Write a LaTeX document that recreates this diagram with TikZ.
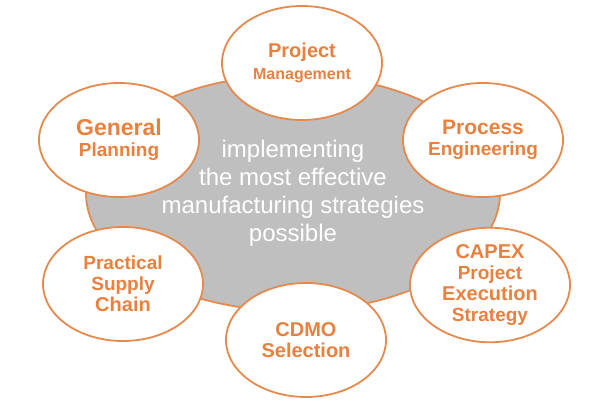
\documentclass[tikz,border=0pt]{standalone}
\usepackage{fontspec}
\setmainfont{Liberation Sans}
\usepackage{xcolor}
\usepackage{tikz}
\usetikzlibrary{shapes.geometric}

\definecolor{orangetext}{HTML}{E9803E}
\definecolor{orangeline}{HTML}{E48A4E}
\definecolor{hubgray}{HTML}{BFBFBF}
\newcommand{\fsz}[1]{\fontsize{#1}{#1}\selectfont}

\begin{document}
\begin{tikzpicture}[x=1pt,y=-1pt,
  hub/.style={ellipse, draw=orangeline, line width=1.8pt, fill=hubgray,
    minimum width=414pt, minimum height=236pt, inner sep=0pt,
    align=center, text=white, font=\fontsize{24}{28}\selectfont},
  topic/.style={ellipse, draw=orangeline, line width=1.8pt, fill=white,
    minimum width=160pt, minimum height=114pt, inner sep=0pt,
    align=center, text=orangetext, font=\fontsize{20}{21}\selectfont\bfseries}]
\useasboundingbox (0,0) rectangle (601,401);

% Central goal
\node[hub] (goal) at (293,193) {implementing\\the most effective\\manufacturing strategies\\possible};

% Surrounding topics
\foreach \name/\x/\y/\txt in {
    pm/302/63/{\fsz{20}Project\\[1pt]\fsz{16}Management},
    gp/119/140/{\fsz{23}General\\\fsz{19}Planning},
    pe/483/140/{\fsz{21}Process\\\fsz{19}Engineering},
    capex/490/285/{\fsz{20}CAPEX\\\fsz{19}Project\\\fsz{20}Execution\\\fsz{19}Strategy},
    psc/123/284/{\fsz{19}Practical\\\fsz{19}Supply\\\fsz{20}Chain},
    cdmo/306/340/{\fsz{20}CDMO\\\fsz{20}Selection}} {
    \node[topic] (\name) at (\x,\y) {\txt};
}

\end{tikzpicture}
\end{document}
